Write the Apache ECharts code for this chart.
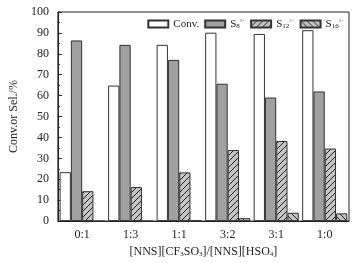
<!DOCTYPE html>
<html>
<head>
<meta charset="utf-8">
<script src="https://cdn.jsdelivr.net/npm/echarts@6/dist/echarts.min.js"></script>
<style>
html,body{margin:0;padding:0;background:#fff}
#chart{width:360px;height:263px}
</style>
</head>
<body>
<div id="chart"></div>
<script>
var categories = ['0:1', '1:3', '1:1', '3:2', '3:1', '1:0'];
var conv = [23.4, 64.8, 84.3, 90.1, 89.5, 91.3];
var s8 = [86.4, 84.3, 77.1, 65.7, 59.1, 62.0];
var s12 = [14.3, 16.3, 23.3, 34.0, 38.3, 34.7];
var s16 = [0, 0, 0.3, 1.4, 4.0, 3.7];

var font = 'Liberation Serif';

// hatch fill, dir 1 = "/", -1 = "\"
function hatch(dir) {
    var c = document.createElement('canvas');
    c.width = 6; c.height = 6;
    var g = c.getContext('2d');
    g.fillStyle = '#c4c4c4';
    g.fillRect(0, 0, 6, 6);
    g.strokeStyle = '#222';
    g.lineWidth = 1;
    g.beginPath();
    if (dir > 0) {
        g.moveTo(0, 6); g.lineTo(6, 0);
        g.moveTo(-1, 1); g.lineTo(1, -1);
        g.moveTo(5, 7); g.lineTo(7, 5);
    } else {
        g.moveTo(0, 0); g.lineTo(6, 6);
        g.moveTo(-1, 5); g.lineTo(1, 7);
        g.moveTo(5, -1); g.lineTo(7, 1);
    }
    g.stroke();
    return { image: c, repeat: 'repeat' };
}

function richSet(size) {
    return {
        n: { fontFamily: font, fontSize: size, color: '#222', lineHeight: 12 },
        sub: { fontFamily: font, fontSize: 7, color: '#222', lineHeight: 12, verticalAlign: 'bottom', padding: [4, 0, 0, 0] },
        sup: { fontFamily: font, fontSize: 5, color: '#666', lineHeight: 12, verticalAlign: 'top', padding: [0, 0, 6, 0] }
    };
}

var chart = echarts.init(document.getElementById('chart'));
var barStyle = function (color) {
    return { color: color, borderColor: '#333', borderWidth: 1 };
};

chart.setOption({
    animation: false,
    grid: {
        left: 52, right: 11, top: 12, bottom: 35,
        show: true, borderColor: '#222', borderWidth: 1
    },
    legend: {
        top: 13, right: 11,
        icon: 'rect',
        itemWidth: 20, itemHeight: 7, itemGap: 5,
        textStyle: { fontFamily: font, fontSize: 11, color: '#222', rich: richSet(11) },
        formatter: function (name) {
            if (name === 'Conv.') return '{n|Conv.}';
            return '{n|S}{sub|' + name.slice(1) + '}{sup|2−}';
        },
        data: ['Conv.', 'S8', 'S12', 'S16']
    },
    xAxis: {
        type: 'category',
        data: categories,
        axisLine: { lineStyle: { color: '#222' } },
        axisTick: { show: false },
        axisLabel: { fontFamily: font, fontSize: 12, color: '#222', margin: 8 },
        name: '{n|[NNS][CF}{sub|3}{n|SO}{sub|3}{n|]/[NNS][HSO}{sub|4}{n|]}',
        nameLocation: 'middle',
        nameGap: 23,
        nameTextStyle: { rich: richSet(12) }
    },
    yAxis: {
        type: 'value',
        min: 0, max: 100, interval: 10,
        axisLine: { show: true, lineStyle: { color: '#222' } },
        axisTick: { show: true, inside: true, length: 4, lineStyle: { color: '#222' } },
        minorTick: { show: true, splitNumber: 2, length: 2, lineStyle: { color: '#222' } },
        splitLine: { show: false },
        axisLabel: { fontFamily: font, fontSize: 12, color: '#222', margin: 9 },
        name: 'Conv.or Sel./%',
        nameLocation: 'middle',
        nameGap: 33,
        nameTextStyle: { fontFamily: font, fontSize: 12, color: '#222' }
    },
    series: [
        { name: 'Conv.', type: 'bar', data: conv, barGap: '0%', barCategoryGap: '7%', itemStyle: barStyle('#ffffff') },
        { name: 'S8', type: 'bar', data: s8, itemStyle: barStyle('#a0a0a0') },
        { name: 'S12', type: 'bar', data: s12, itemStyle: barStyle(hatch(1)) },
        { name: 'S16', type: 'bar', data: s16, itemStyle: barStyle(hatch(-1)) }
    ]
});
</script>
</body>
</html>
